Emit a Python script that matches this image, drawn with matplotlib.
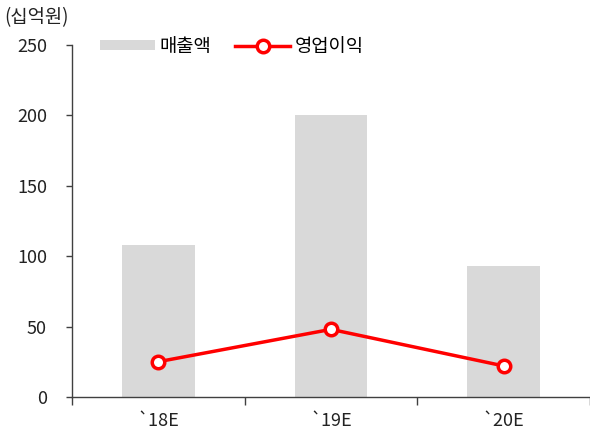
import numpy as np
import matplotlib.pyplot as plt

plt.rcParams['font.family'] = ['Noto Sans CJK KR', 'DejaVu Sans']

# Data
CATEGORIES = ['`18E', '`19E', '`20E']
SALES = [108, 200, 93]
OPERATING_PROFIT = [25, 48, 22]

X_POS = np.arange(len(CATEGORIES))

FIGURE = plt.figure(figsize=(5.9, 4.3), dpi=100)
AXES = FIGURE.add_axes([0.122, 0.077, 0.878, 0.818])

BARS = AXES.bar(X_POS, SALES, width=0.42, color='#d9d9d9', label='매출액',
                zorder=1)
LINE, = AXES.plot(X_POS, OPERATING_PROFIT, color='#ff0000', linewidth=2.5,
                  marker='o', markersize=9, markerfacecolor='white',
                  markeredgecolor='#ff0000', markeredgewidth=2.5,
                  label='영업이익', zorder=3)

AXES.set_xlim(-0.5, len(CATEGORIES) - 0.5)
AXES.set_ylim(0, 250)
AXES.set_yticks(np.arange(0, 251, 50))

# category labels in centre, ticks on boundaries
AXES.set_xticks(X_POS)
AXES.set_xticklabels(CATEGORIES)
AXES.set_xticks(np.arange(-0.5, len(CATEGORIES)), minor=True)
AXES.tick_params(axis='x', which='major', length=0, pad=11)
AXES.tick_params(axis='x', which='minor', length=6, width=1,
                 color='#404040', direction='out')
AXES.tick_params(axis='y', length=4, width=1, color='#404040',
                 direction='out', pad=14)
AXES.tick_params(labelsize=13, labelcolor='#222222')

for side in ['top', 'right']:
    AXES.spines[side].set_visible(False)
for side in ['left', 'bottom']:
    AXES.spines[side].set_color('#404040')
    AXES.spines[side].set_linewidth(1)

FIGURE.text(0.008, 0.983, '(십억원)', fontsize=13.5, color='#222222',
            ha='left', va='top')

AXES.legend([BARS, LINE], ['매출액', '영업이익'], loc='upper left',
            bbox_to_anchor=(0.022, 1.075), ncol=2, frameon=False,
            fontsize=13.5, handlelength=2.9, handleheight=0.5,
            handletextpad=0.25, columnspacing=1.3)

plt.savefig('out.png', dpi=100)
